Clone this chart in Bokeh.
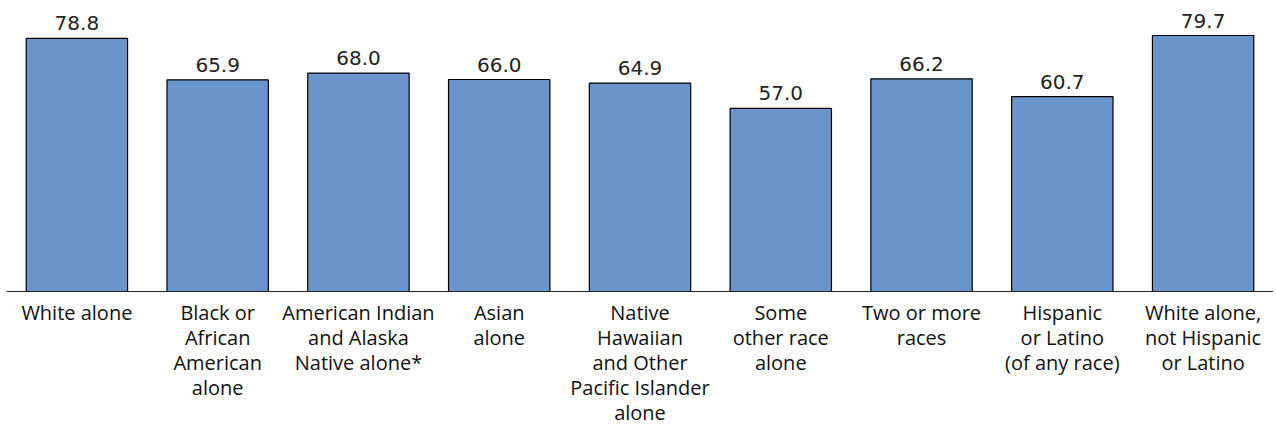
from bokeh.plotting import figure
from bokeh.models import ColumnDataSource, Range1d, FactorRange
from bokeh.core.properties import value
from bokeh.embed import file_html
from bokeh.resources import INLINE

categories = [
    "White alone",
    "Black or\nAfrican\nAmerican\nalone",
    "American Indian\nand Alaska\nNative alone*",
    "Asian\nalone",
    "Native\nHawaiian\nand Other\nPacific Islander\nalone",
    "Some\nother race\nalone",
    "Two or more\nraces",
    "Hispanic\nor Latino\n(of any race)",
    "White alone,\nnot Hispanic\nor Latino",
]
values = [78.8, 65.9, 68.0, 66.0, 64.9, 57.0, 66.2, 60.7, 79.7]
labels = [f"{v:.1f}" for v in values]

src = ColumnDataSource(dict(cat=categories, val=values, lab=labels))

p = figure(
    x_range=FactorRange(*categories),
    y_range=Range1d(0, 90.6),
    frame_width=1267,
    frame_height=291,
    output_backend="svg",
    toolbar_location=None,
    min_border_left=6,
    min_border_right=0,
    min_border_top=0,
    min_border_bottom=0,
)
p.outline_line_color = None
p.xgrid.visible = False
p.ygrid.visible = False
p.yaxis.visible = False

p.vbar(x="cat", top="val", width=0.72, source=src,
       fill_color="#6A95CC", line_color="#000000", line_width=1.2)

p.text(x="cat", y="val", text="lab", source=src,
       text_align="center", text_baseline="bottom", y_offset=-8,
       text_font=value("DejaVu Sans"), text_font_size="20px",
       text_color="#222222")

ax = p.xaxis[0]
ax.axis_line_color = "#222222"
ax.axis_line_width = 1.2
ax.major_tick_line_color = None
ax.minor_tick_line_color = None
ax.major_label_text_font = "Open Sans"
ax.major_label_text_font_size = "20px"
ax.major_label_text_color = "#111111"
ax.major_label_standoff = 1
ax.major_label_text_line_height = 0.93
ax.major_label_orientation = "horizontal"

open("out.html", "w").write(file_html(p, INLINE))
